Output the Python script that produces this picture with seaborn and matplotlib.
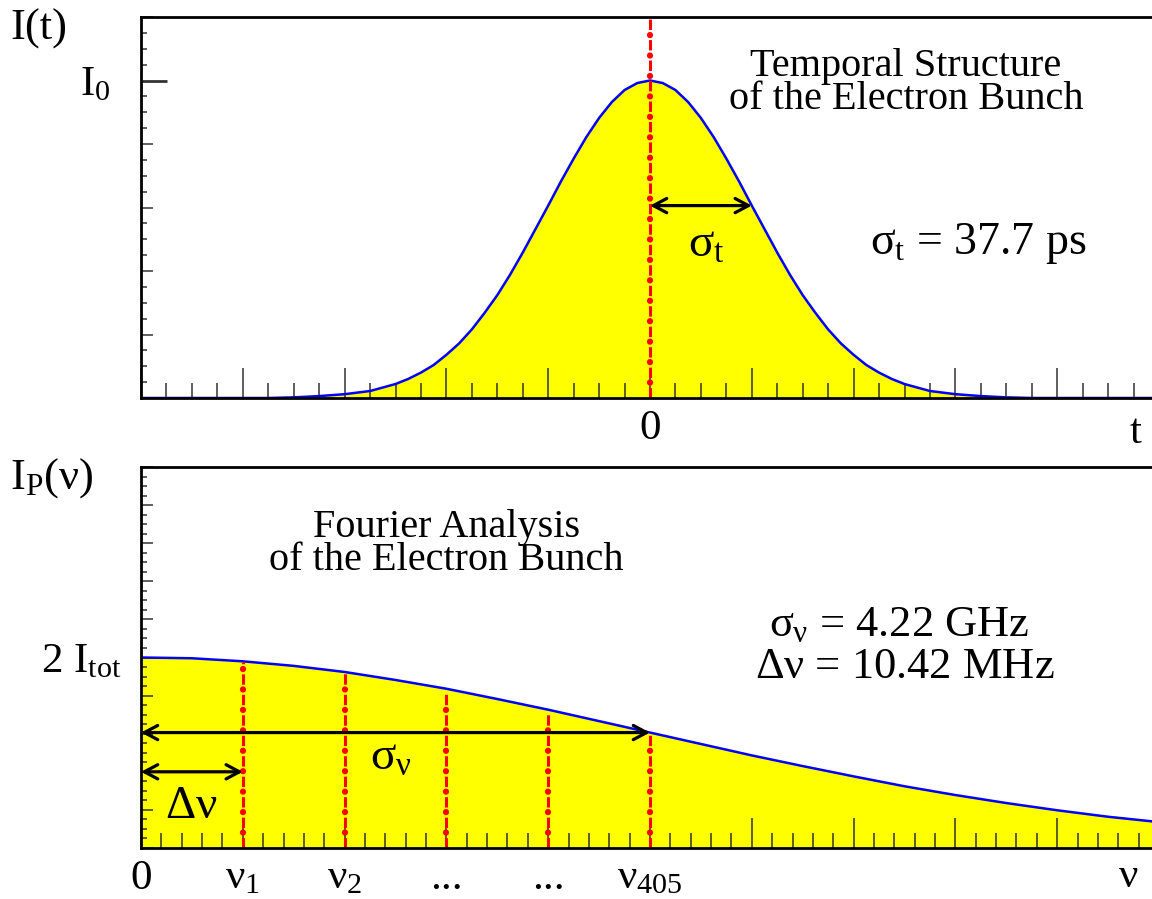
import matplotlib
matplotlib.use('Agg')
import matplotlib.pyplot as plt
import seaborn as sns
from matplotlib.ticker import MultipleLocator

# ---- data ----
# temporal profile (x in units of sigma_t, y arbitrary with I0 = 5)
t_vals = [-5.0, -4.5, -4.0, -3.75, -3.5, -3.25, -3.0, -2.75, -2.5, -2.375,
          -2.25, -2.125, -2.0, -1.875, -1.75, -1.625, -1.5, -1.375, -1.25,
          -1.125, -1.0, -0.875, -0.75, -0.625, -0.5, -0.375, -0.25, -0.125,
          0.0, 0.125, 0.25, 0.375, 0.5, 0.625, 0.75, 0.875, 1.0, 1.125, 1.25,
          1.375, 1.5, 1.625, 1.75, 1.875, 2.0, 2.125, 2.25, 2.375, 2.5, 2.75,
          3.0, 3.25, 3.5, 3.75, 4.0, 4.5, 5.0]
I_t = [0.00, 0.00, 0.00, 0.00, 0.01, 0.03, 0.06, 0.11, 0.22, 0.30,
       0.40, 0.52, 0.68, 0.86, 1.08, 1.34, 1.62, 1.94, 2.29,
       2.66, 3.03, 3.41, 3.77, 4.11, 4.41, 4.66, 4.85, 4.96,
       5.00, 4.96, 4.85, 4.66, 4.41, 4.11, 3.77, 3.41, 3.03, 2.66, 2.29,
       1.94, 1.62, 1.34, 1.08, 0.86, 0.68, 0.52, 0.40, 0.30, 0.22, 0.11,
       0.06, 0.03, 0.01, 0.00, 0.00, 0.00, 0.00]

# spectrum (x in units of delta nu spacing, 2 I_tot = 5)
nu_vals = [0, 0.5, 1, 1.5, 2, 2.5, 3, 3.5, 4, 4.5, 5, 5.5, 6, 6.5, 7,
           7.5, 8, 8.5, 9, 9.5, 10]
I_nu = [5.00, 4.98, 4.90, 4.78, 4.62, 4.41, 4.18, 3.91, 3.63, 3.33, 3.03,
        2.73, 2.43, 2.15, 1.88, 1.62, 1.39, 1.18, 0.99, 0.82, 0.68]

# harmonic lines
harm_pos = [1, 2, 3, 4, 5]
harm_top = [4.88, 4.62, 4.12, 3.58, 3.03]

# arrows: (start, end, level)
arrow_sigma_t = (0.0, 1.0, 3.03)
arrow_sigma_nu = (0.0, 5.0, 3.03)
arrow_delta_nu = (0.0, 1.0, 2.0)

top_xticks = [-5, -4, -3, -2, -1, 0, 1, 2, 3, 4, 5]
top_xticklabels = ['', '', '', '', '', '0', '', '', '', '', '']
top_yticks = [0, 1, 2, 3, 4, 5, 6]
top_yticklabels = ['', '', '', '', '', r'I$_0$', '']

bot_xticks = [0, 1, 2, 3, 4, 5, 6, 7, 8, 9, 10]
bot_xticklabels = ['0', r'$\nu_1$', r'$\nu_2$', '...', '...', r'$\nu_{405}$',
                   '', '', '', '', '']
bot_yticks = [0, 1, 2, 3, 4, 5, 6, 7, 8, 9, 10]
bot_yticklabels = ['', '', '', '', '', r'2 I$_{\mathrm{tot}}$', '', '', '', '', '']

# ---- style ----
sns.set_style('ticks')
plt.rcParams['font.family'] = ['Liberation Serif', 'DejaVu Serif']
plt.rcParams['mathtext.fontset'] = 'custom'
plt.rcParams['mathtext.rm'] = 'Liberation Serif'
plt.rcParams['mathtext.it'] = 'Liberation Serif'
plt.rcParams['mathtext.bf'] = 'Liberation Serif:bold'
plt.rcParams['axes.axisbelow'] = 'line'
plt.rcParams['axes.edgecolor'] = 'black'
plt.rcParams['text.color'] = 'black'
plt.rcParams['xtick.color'] = 'black'
plt.rcParams['ytick.color'] = 'black'

YELLOW = '#ffff00'
BLUE = '#0000ff'
RED = '#ff0000'
FS = 31

W, H = 1152, 899
fig = plt.figure(figsize=(W / 100, H / 100), dpi=100)
ax_t = fig.add_axes([141 / W, 1 - 398 / H, 1018 / W, 381 / H])
ax_f = fig.add_axes([141 / W, 1 - 848 / H, 1018 / W, 381 / H])


def red_lines(ax, xs, y0, y1):
    # dashes with round dots in between
    lc = ax.vlines(xs, y0, y1, colors=RED, linewidth=2.2,
                   linestyles=[(0, (3.4, 3.3))], zorder=4)
    lc.set_capstyle('butt')
    dots = ax.vlines(xs, y0, y1, colors=RED, linewidth=4.5,
                     linestyles=[(0.8, (0.01, 3.26))], zorder=4)
    dots.set_capstyle('round')


def double_arrow(ax, x0, x1, y):
    ax.annotate('', xy=(x1, y), xytext=(x0, y),
                arrowprops=dict(arrowstyle='<->,head_length=0.6,head_width=0.32',
                                lw=2.3, color='black', mutation_scale=16,
                                shrinkA=0, shrinkB=0), zorder=5)


def style_axis(ax, xminor, xpad, ypad):
    for s in ax.spines.values():
        s.set_linewidth(2.0)
        s.set_zorder(6)
    ax.xaxis.set_minor_locator(MultipleLocator(xminor))
    ax.yaxis.set_minor_locator(MultipleLocator(0.25))
    ax.tick_params(axis='x', which='major', direction='in', length=21.6,
                   width=1.1, color='#333333', pad=xpad, labelsize=FS,
                   top=False)
    ax.tick_params(axis='x', which='minor', direction='in', length=10.8,
                   width=1.1, color='#333333', top=False)
    ax.tick_params(axis='y', which='major', direction='in', length=8.6,
                   width=1.1, color='#333333', pad=ypad, labelsize=FS,
                   right=False)
    ax.tick_params(axis='y', which='minor', direction='in', length=4.3,
                   width=1.1, color='#333333', right=False)


# ---- top panel: temporal structure ----
ax_t.fill_between(t_vals, I_t, 0, color=YELLOW, linewidth=0, zorder=1)
sns.lineplot(x=t_vals, y=I_t, ax=ax_t, color=BLUE, linewidth=1.8, zorder=3,
             sort=False)
red_lines(ax_t, [0], 0, 6)
double_arrow(ax_t, *arrow_sigma_t)
ax_t.set_xlim(-5, 5)
ax_t.set_ylim(0, 6)
ax_t.set_xticks(top_xticks, top_xticklabels)
ax_t.set_yticks(top_yticks, top_yticklabels)
style_axis(ax_t, 0.25, 8, 22)
i0_tick = ax_t.yaxis.get_major_ticks()[5].tick1line
i0_tick.set_markersize(18.7)
i0_tick.set_markeredgewidth(2.0)
i0_tick.set_color('black')
ax_t.set_xlabel('')
ax_t.set_ylabel('')

ax_t.text(2.515, 4.55, 'Temporal Structure\nof the Electron Bunch', fontsize=29,
          ha='center', va='baseline', multialignment='center', linespacing=0.85)
ax_t.text(3.22, 2.27, r'$\sigma_{\mathrm{t}}$ = 37.7 ps', fontsize=33,
          ha='center', va='baseline')
ax_t.text(0.55, 2.22, r'$\sigma_{\mathrm{t}}$', fontsize=34,
          ha='center', va='baseline')
ax_t.text(0.977, -0.04, 't', fontsize=FS, ha='center', va='top',
          transform=ax_t.transAxes)
fig.text(10 / W, 1 - 9 / H, 'I(t)', fontsize=32, ha='left', va='top')

# ---- bottom panel: Fourier analysis ----
ax_f.fill_between(nu_vals, I_nu, 0, color=YELLOW, linewidth=0, zorder=1)
sns.lineplot(x=nu_vals, y=I_nu, ax=ax_f, color=BLUE, linewidth=1.8, zorder=3,
             sort=False)
red_lines(ax_f, harm_pos, 0, harm_top)
double_arrow(ax_f, *arrow_sigma_nu)
double_arrow(ax_f, *arrow_delta_nu)
ax_f.set_xlim(0, 10)
ax_f.set_ylim(0, 10)
ax_f.set_xticks(bot_xticks, bot_xticklabels)
ax_f.set_yticks(bot_yticks, bot_yticklabels)
style_axis(ax_f, 0.2, 8, 14)
ax_f.set_xlabel('')
ax_f.set_ylabel('')

ax_f.text(3.0, 7.30, 'Fourier Analysis\nof the Electron Bunch', fontsize=29,
          ha='center', va='baseline', multialignment='center', linespacing=0.85)
ax_f.text(7.45, 5.56, r'$\sigma_{\nu}$ = 4.22 GHz', fontsize=32,
          ha='center', va='baseline')
ax_f.text(7.5, 4.46, r'$\Delta\nu$ = 10.42 MHz', fontsize=32,
          ha='center', va='baseline')
ax_f.text(2.45, 2.05, r'$\sigma_{\nu}$', fontsize=34, ha='center', va='baseline')
ax_f.text(0.49, 0.8, r'$\Delta\nu$', fontsize=34, ha='center', va='baseline')
ax_f.text(0.97, -0.025, r'$\nu$', fontsize=FS, ha='center', va='top',
          transform=ax_f.transAxes)
fig.text(10 / W, 1 - 456 / H, r'I$_{\mathrm{P}}$($\nu$)', fontsize=32,
         ha='left', va='top')

fig.savefig('out.png', dpi=100)
